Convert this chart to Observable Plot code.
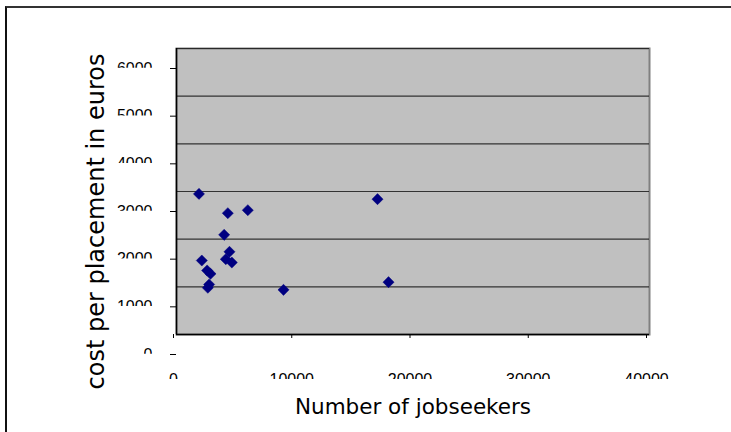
<!DOCTYPE html>
<html>
<head>
<meta charset="utf-8">
<script src="https://cdn.jsdelivr.net/npm/d3@7"></script>
<script src="https://cdn.jsdelivr.net/npm/@observablehq/plot@0.6"></script>
<style>
  html, body { margin: 0; padding: 0; background: #fff; overflow: hidden; }
  #wrap { position: relative; width: 731px; height: 432px; }
  #border {
    position: absolute; left: 5px; top: 6px; width: 760px; height: 500px;
    border-left: 2px solid #111; border-top: 2px solid #333;
    pointer-events: none;
  }
  #chart { position: absolute; left: 0; top: 0; }
  /* tick labels show only their upper part */
  .tick-label text { clip-path: inset(0 0 52% 0); }
</style>
</head>
<body>
<div id="wrap">
  <div id="chart"></div>
  <div id="border"></div>
</div>
<script>
// Number of jobseekers per office
const jobseekers = [1900, 4340, 6030, 4030, 4480, 4170, 4680, 2140, 2590, 2875, 2760, 2650, 9050, 17000, 17930];
// Cost per placement (euros)
const costPerPlacement = [2950, 2545, 2608, 2091, 1735, 1580, 1510, 1552, 1343, 1273, 1050, 980, 937, 2839, 1098];

const xTicks = [0, 10000, 20000, 30000, 40000];
const yTicks = [0, 1000, 2000, 3000, 4000, 5000, 6000];

const data = jobseekers.map((x, i) => ({x, y: costPerPlacement[i]}));

const chart = Plot.plot({
  width: 731,
  height: 432,
  marginLeft: 176,
  marginRight: 82,
  marginTop: 48,
  marginBottom: 98,
  style: {fontFamily: "'Liberation Sans', Arial, sans-serif", background: "transparent"},
  x: {domain: [0, 40000]},
  y: {domain: [0, 6000]},
  marks: [
    Plot.frame({fill: "#c0c0c0", stroke: "#808080", strokeWidth: 2}),
    Plot.gridY(yTicks.filter(d => d > 0), {stroke: "#1a1a1a", strokeOpacity: 0.85, strokeWidth: 1.2}),
    Plot.ruleX([0], {stroke: "#000", strokeWidth: 1.5}),
    Plot.ruleY([0], {stroke: "#000", strokeWidth: 1.5}),
    Plot.axisY({
      ticks: yTicks, tickSize: 6, tickPadding: 18, dy: 20,
      tickFormat: d => String(d), fontSize: 16, label: null,
      className: "tick-label", stroke: "#000"
    }),
    Plot.axisX({
      ticks: xTicks, tickSize: 4, tickPadding: 35, dx: -3,
      tickFormat: d => String(d), fontSize: 16, label: null,
      className: "tick-label", stroke: "#000"
    }),
    Plot.dot(data, {
      x: "x", y: "y", symbol: "diamond2", r: 5,
      fill: "#000080", stroke: "#000080", strokeWidth: 0.5
    }),
    // axis titles
    Plot.text(["cost per placement in euros"], {
      frameAnchor: "left", textAnchor: "middle", dx: -80, dy: 30, rotate: -90,
      fontSize: 24, fontFamily: "'DejaVu Sans', Verdana, sans-serif", fill: "#000"
    }),
    Plot.text(["Number of jobseekers"], {
      frameAnchor: "bottom", dx: 0, dy: 79,
      fontSize: 21.5, fontFamily: "'DejaVu Sans', Verdana, sans-serif", fill: "#000"
    })
  ]
});

document.getElementById("chart").append(chart);
</script>
</body>
</html>
